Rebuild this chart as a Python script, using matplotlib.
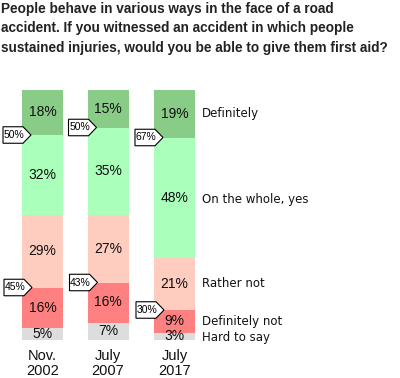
import matplotlib.pyplot as plt
from matplotlib.patches import Polygon

# survey data (percent), one value per wave
periods = ['Nov.\n2002', 'July\n2007', 'July\n2017']
categories = ['Hard to say', 'Definitely not', 'Rather not', 'On the whole, yes', 'Definitely']
hard_to_say = [5, 7, 3]
definitely_not = [16, 16, 9]
rather_not = [29, 27, 21]
on_the_whole_yes = [32, 35, 48]
definitely = [18, 15, 19]
yes_total = [50, 50, 67]
no_total = [45, 43, 30]

colors = ['#dddddd', '#ff8080', '#ffccc0', '#aaffbb', '#88cc88']
series = [hard_to_say, definitely_not, rather_not, on_the_whole_yes, definitely]

font = ['Liberation Sans', 'DejaVu Sans']

fig = plt.figure(figsize=(4, 3.78), dpi=100)
ax = fig.add_axes([0, 0, 1, 1])
ax.set_xlim(0, 400)
ax.set_ylim(-15.2, 136)
ax.axis('off')

xpos = [42.5, 108, 174.5]
width = 41

bottoms = [0, 0, 0]
label_y = []
for vals, col in zip(series, colors):
    ax.bar(xpos, vals, width=width, bottom=bottoms, color=col, edgecolor='none')
    for x, v, b in zip(xpos, vals, bottoms):
        ax.text(x, b + v / 2, f'{v}%', ha='center', va='center',
                fontsize=10, family=font, color='#111111')
    label_y.append(bottoms[2] + vals[2] / 2)
    bottoms = [b + v for b, v in zip(bottoms, vals)]

# legend labels on the right of the last bar
shifts = [-0.6, 0, 0, -1.0, 0]
for yc, sh, name in zip(label_y, shifts, categories):
    ax.text(202, yc + sh, name, ha='left', va='center', fontsize=8.5,
            family='DejaVu Sans', color='#111111')


def pointer(x_tip, y, label):
    w, h, d = 28, 6.6, 8
    pts = [(x_tip, y), (x_tip - d, y + h / 2), (x_tip - w, y + h / 2),
           (x_tip - w, y - h / 2), (x_tip - d, y - h / 2)]
    ax.add_patch(Polygon(pts, closed=True, facecolor='white', edgecolor='black',
                         lw=0.8, zorder=5))
    ax.text(x_tip - w / 2 - 3, y, label, ha='center', va='center', fontsize=7.5,
            family=font, zorder=6)


for i, x in enumerate(xpos):
    left = x - width / 2
    pointer(left + 9, 100 - definitely[i], f'{yes_total[i]}%')
    pointer(left + 10, hard_to_say[i] + definitely_not[i], f'{no_total[i]}%')

for x, p in zip(xpos, periods):
    ax.text(x, -9.4, p, ha='center', va='center', fontsize=10.5, family=font,
            linespacing=1.05, color='#111111')

fig.text(0.003, 0.995,
         'People behave in various ways in the face of a road\n'
         'accident. If you witnessed an accident in which people\n'
         'sustained injuries, would you be able to give them first aid?',
         ha='left', va='top', fontsize=9.8, fontweight='bold', family='Liberation Sans',
         color='#222222', linespacing=1.5)

fig.savefig('out.png', dpi=100)
